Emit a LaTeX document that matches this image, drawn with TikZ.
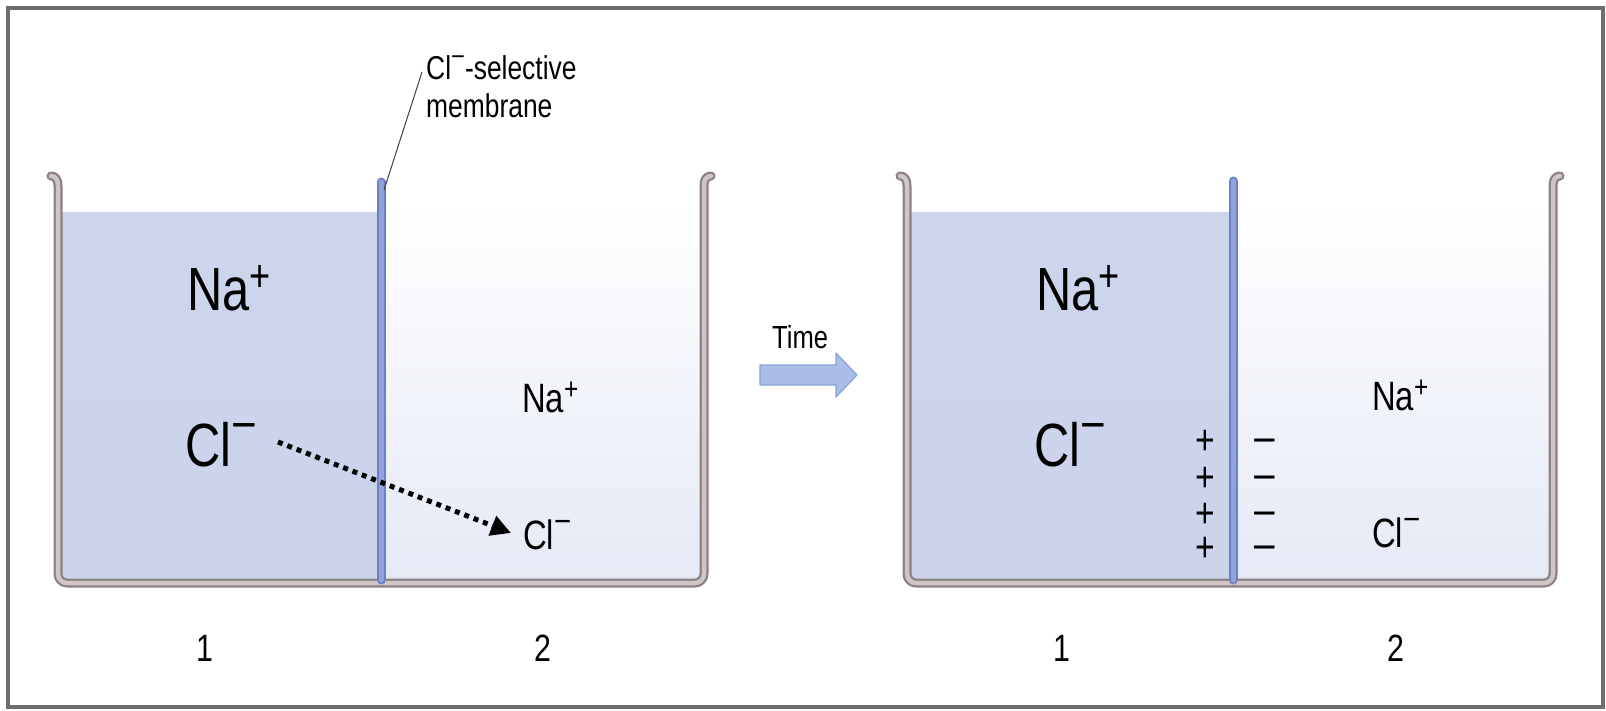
\documentclass[tikz,border=0pt]{standalone}
\usepackage{fontspec}
\setmainfont[FakeStretch=0.8]{Liberation Sans}
\usetikzlibrary{arrows.meta}
\definecolor{liqtop}{HTML}{CCD5EB}
\definecolor{liqmid}{HTML}{BAC7E4}
\definecolor{liqbot}{HTML}{CBD4EB}
\definecolor{lightmid}{HTML}{DAE1F1}
\definecolor{lightbot}{HTML}{E4E9F5}
\definecolor{wallout}{HTML}{8A8282}
\definecolor{wallin}{HTML}{D0C6C6}
\definecolor{membout}{HTML}{6F7FC6}
\definecolor{membin}{HTML}{93A1DC}
\definecolor{arrowfill}{HTML}{AABDE6}
\definecolor{arrowline}{HTML}{8BA3D6}
\definecolor{framec}{HTML}{6E6E6E}
\newcommand\fsz[1]{\fontsize{#1pt}{1.15\dimexpr#1pt\relax}\selectfont}
\newcommand\plussup{\raisebox{0.30em}{\scalebox{0.74}{+}}}
\newcommand\minussup{\raisebox{0.40em}{\scalebox{0.9}[0.8]{−}}}
\newcommand\wideminus{\scalebox{1.25}[1]{−}}
\tikzset{
  lbl/.style={inner sep=0pt, anchor=base west, text=black},
  biglbl/.style={lbl, font=\fsz{61}},
  smalllbl/.style={lbl, font=\fsz{41}},
  numlbl/.style={inner sep=0pt, anchor=base, font=\fsz{38}},
  signlbl/.style={inner sep=0pt, anchor=base, font=\fsz{42}, text height=0.6em, text depth=0pt},
  wallA/.style={draw=wallout, line width=9pt, line cap=round, line join=round},
  wallB/.style={draw=wallin, line width=4.5pt, line cap=round, line join=round},
  membA/.style={draw=membout, line width=9pt, line cap=round},
  membB/.style={draw=membin, line width=5pt, line cap=round},
}
\begin{document}
\begin{tikzpicture}[x=1pt,y=-1pt]
\useasboundingbox (0,0) rectangle (1606,711);
\fill[white] (0,0) rectangle (1606,711);
\draw[framec, line width=3.5pt] (8,8) rectangle (1603,707);

% ---------- liquids ----------
\foreach \ox/\mx in {0/381, 849/1233}{
  \shade[top color=liqtop, middle color=liqmid, bottom color=liqbot]
    (58+\ox,213) rectangle (\mx,583);
  \shade[top color=white, middle color=lightmid, bottom color=lightbot]
    (\mx,203) rectangle (704+\ox,583);
}

% ---------- beakers ----------
\foreach \ox in {0,849}{
  \foreach \st in {wallA,wallB}{
    \draw[\st] (51+\ox,176) .. controls (56+\ox,176) and (58+\ox,180) .. (58+\ox,186)
      [rounded corners=9pt] -- (58+\ox,583) -- (704+\ox,583) [sharp corners] -- (704+\ox,186)
      .. controls (704+\ox,180) and (706+\ox,176) .. (711+\ox,176);
  }
}

% ---------- membranes ----------
\coordinate (memA) at (381,182);
\coordinate (memAb) at (381,580);
\coordinate (memB) at (1233,181);
\coordinate (memBb) at (1233,580);
\draw[membA] (memA) -- (memAb);
\draw[membB] (memA) -- (memAb);
\draw[membA] (memB) -- (memBb);
\draw[membB] (memB) -- (memBb);

% ---------- membrane label ----------
\node[lbl, font=\fsz{33}, align=left, anchor=north west] (memlbl) at (426,55)
  {Cl\minussup-selective\\membrane};
\coordinate (leadtop) at (422,72);
\draw[black!75, line width=1pt] (leadtop) -- ([xshift=3pt,yshift=-8pt]memA);

% ---------- left beaker labels ----------
\node[biglbl] (naA) at (187,310) {Na\plussup};
\node[biglbl] (clA) at (185,466) {Cl\minussup};
\node[smalllbl] (naA2) at (522,412) {Na\plussup};
\node[smalllbl] (clA2) at (523,549) {Cl\minussup};
\coordinate (arrS) at (278,442);
\coordinate (arrE) at (511,533);
\draw[line width=5pt, dash pattern=on 5pt off 5pt,
      -{Triangle[length=20pt,width=20pt]}] (arrS) -- (arrE);

\node[numlbl] (oneA) at (205,661) {1};
\node[numlbl] (twoA) at (543,661) {2};

% ---------- time arrow ----------
\node[lbl, font=\fsz{32}] (time) at (772,348) {Time};
\draw[fill=arrowfill, draw=arrowline, line width=1.2pt, line join=round]
  (760,365) -- (836,365) -- (836,353) -- (857,375) -- (836,397) -- (836,385) -- (760,385) -- cycle;

% ---------- right beaker labels ----------
\node[biglbl] (naB) at (1036,310) {Na\plussup};
\node[biglbl] (clB) at (1034,466) {Cl\minussup};
\node[smalllbl] (naB2) at (1372,410) {Na\plussup};
\node[smalllbl] (clB2) at (1372,547) {Cl\minussup};
\foreach \yy [count=\i] in {440,477,513,547}{
  \node[signlbl] (p\i) at (1205,\yy+14) {+};
  \node[signlbl] (m\i) at (1265,\yy+14) {\wideminus};
}
\node[numlbl] (oneB) at (1062,661) {1};
\node[numlbl] (twoB) at (1396,661) {2};
\end{tikzpicture}
\end{document}
